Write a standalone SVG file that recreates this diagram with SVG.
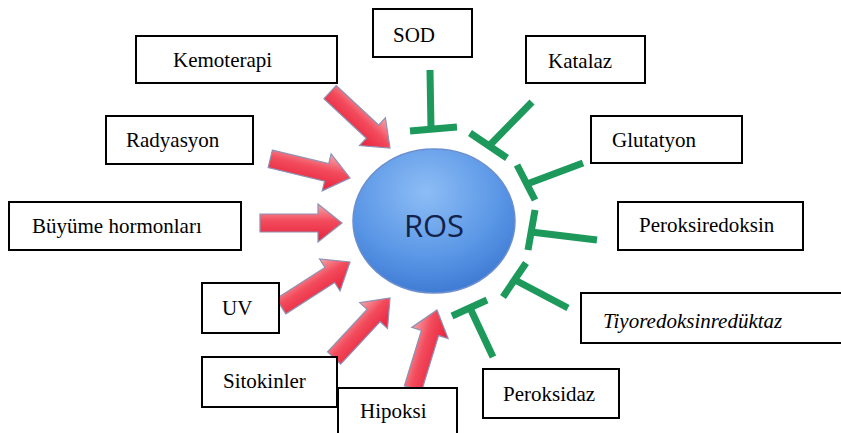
<svg xmlns="http://www.w3.org/2000/svg" width="841" height="433" viewBox="0 0 841 433">
<style>
.box{fill:#ffffff;stroke:#000000;stroke-width:2}
.inh{stroke:#1d9a5b;stroke-width:7;stroke-linecap:butt;fill:none}
.arr{fill:url(#redg);stroke:#8d92b4;stroke-width:1.2}
</style>
<defs>
<linearGradient id="redg" x1="0" y1="0" x2="0" y2="1">
<stop offset="0" stop-color="#f7a5ab"/>
<stop offset="0.45" stop-color="#f24b5c"/>
<stop offset="1" stop-color="#e8203c"/>
</linearGradient>
<radialGradient id="rosg" cx="0.45" cy="0.3" r="0.75">
<stop offset="0" stop-color="#8dbdf5"/>
<stop offset="0.6" stop-color="#5b97e6"/>
<stop offset="1" stop-color="#3a76d0"/>
</radialGradient>
<path id="ar" d="M-82,-9 L-24,-9 L-24,-19 L0,0 L-24,19 L-24,9 L-82,9 Z"/>
</defs>
<g id="connectors">
<use href="#ar" class="arr" transform="translate(390,148) rotate(43)"/>
<use href="#ar" class="arr" transform="translate(350,178) rotate(13.5)"/>
<use href="#ar" class="arr" transform="translate(342,223)"/>
<use href="#ar" class="arr" transform="translate(350,262) rotate(-32.7)"/>
<use href="#ar" class="arr" transform="translate(390,298) rotate(-47)"/>
<use href="#ar" class="arr" transform="translate(437,310) rotate(-73)"/>
<path class="inh" d="M430,70 L431,129 M410,131 L457,127"/>
<path class="inh" d="M532,102 L489,146 M470,133 L507,158"/>
<path class="inh" d="M583,163 L527,184 M517,165 L535,200"/>
<path class="inh" d="M597,240 L531,232 M535,210 L528,250"/>
<path class="inh" d="M568,308 L515,280 M526,263 L503,297"/>
<path class="inh" d="M493,357 L470,308 M452,316 L487,300"/>
</g>
<g id="ros">
<ellipse cx="434" cy="221" rx="81" ry="72" fill="url(#rosg)" stroke="#6b8fcf" stroke-width="1.5"/>
<text x="434" y="237" text-anchor="middle" font-family="Open Sans, Liberation Sans, sans-serif" font-size="31" fill="#12224a">ROS</text>
</g>
<g font-family="Liberation Serif, DejaVu Serif, serif" font-size="21" fill="#000000">
<g id="kemoterapi"><rect class="box" x="136" y="36" width="201" height="47"/><text x="173" y="67">Kemoterapi</text></g>
<g id="sod"><rect class="box" x="373" y="9" width="99" height="48"/><text x="393" y="42">SOD</text></g>
<g id="katalaz"><rect class="box" x="526" y="36" width="119" height="47"/><text x="548" y="68">Katalaz</text></g>
<g id="glutatyon"><rect class="box" x="591" y="116" width="151" height="47"/><text x="612" y="147">Glutatyon</text></g>
<g id="radyasyon"><rect class="box" x="106" y="116" width="147" height="48"/><text x="126" y="147">Radyasyon</text></g>
<g id="buyume"><rect class="box" x="9" y="202" width="232" height="48"/><text x="32" y="233">Büyüme hormonları</text></g>
<g id="peroksiredoksin"><rect class="box" x="618" y="202" width="185" height="48"/><text x="639" y="232">Peroksiredoksin</text></g>
<g id="uv"><rect class="box" x="202" y="283" width="77" height="50"/><text x="222" y="315">UV</text></g>
<g id="tiyoredoksin"><rect class="box" x="581" y="293" width="270" height="50"/><text x="603" y="328" font-style="italic">Tiyoredoksinredüktaz</text></g>
<g id="sitokinler"><rect class="box" x="202" y="357" width="135" height="50"/><text x="223" y="388">Sitokinler</text></g>
<g id="hipoksi"><rect class="box" x="338" y="388" width="119" height="60"/><text x="360" y="418">Hipoksi</text></g>
<g id="peroksidaz"><rect class="box" x="483" y="369" width="136" height="49"/><text x="503" y="401">Peroksidaz</text></g>
</g>
</svg>
